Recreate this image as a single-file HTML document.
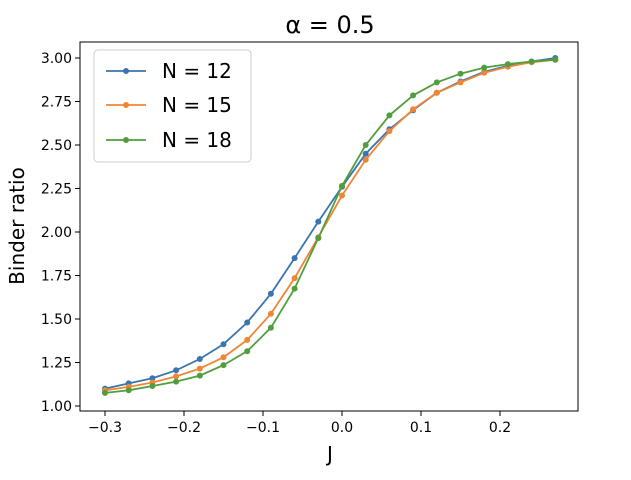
<!DOCTYPE html>
<html><head><meta charset="utf-8"><style>
body{margin:0;background:#fff;}
svg text{font-family:"DejaVu Sans","Liberation Sans",sans-serif;}
</style></head><body>
<svg id="s" width="631" height="475" xmlns="http://www.w3.org/2000/svg"></svg>
<script>
const s=document.getElementById('s');
const X=v=>105+(v+0.3)*790, Y=v=>406-(v-1)*174;
let h='';
h+='<text x="330" y="33" font-size="24" text-anchor="middle">α = 0.5</text>';
const d={'#3a75b0':[1.10,1.13,1.16,1.205,1.27,1.355,1.48,1.645,1.85,2.06,2.26,2.45,2.59,2.70,2.80,2.865,2.92,2.955,2.98,3.0],
'#ef8636':[1.09,1.11,1.135,1.17,1.215,1.28,1.38,1.53,1.735,1.97,2.21,2.415,2.58,2.705,2.80,2.86,2.915,2.95,2.975,2.99],
'#519e3e':[1.075,1.09,1.115,1.14,1.175,1.235,1.315,1.45,1.675,1.965,2.265,2.50,2.67,2.785,2.86,2.91,2.945,2.965,2.98,2.99]};
for(const c in d){let p=d[c].map((v,i)=>X(-0.3+0.03*i).toFixed(1)+','+Y(v).toFixed(1));
h+=`<polyline points="${p.join(' ')}" fill="none" stroke="${c}" stroke-width="1.8"/>`;
p.forEach(q=>{const[a,b]=q.split(',');h+=`<circle cx="${a}" cy="${b}" r="3" fill="${c}"/>`;});}
h+='<rect x="80" y="42" width="498" height="369" fill="none" stroke="#000" stroke-width="1"/>';
[-0.3,-0.2,-0.1,0,0.1,0.2].forEach(v=>{const x=X(v);h+=`<line x1="${x}" y1="411" x2="${x}" y2="416" stroke="#000"/><text x="${x}" y="432" font-size="14" text-anchor="middle">${v<0?'−'+Math.abs(v).toFixed(1):v.toFixed(1)}</text>`;});
for(let v=1;v<=3.001;v+=0.25){const y=Y(v);h+=`<line x1="75" y1="${y}" x2="80" y2="${y}" stroke="#000"/><text x="72" y="${y+5}" font-size="14" text-anchor="end">${v.toFixed(2)}</text>`;}
h+='<text x="330" y="461" font-size="20" text-anchor="middle">J</text>';
h+='<text transform="translate(24,226) rotate(-90)" font-size="20" text-anchor="middle">Binder ratio</text>';
h+='<rect x="94" y="50" width="157" height="112" rx="4" fill="#fff" stroke="#ccc"/>';
[['#3a75b0','N = 12',71],['#ef8636','N = 15',105],['#519e3e','N = 18',140]].forEach(([c,t,y])=>{
h+=`<line x1="106" y1="${y}" x2="146" y2="${y}" stroke="${c}" stroke-width="1.8"/><circle cx="126" cy="${y}" r="3" fill="${c}"/><text x="162" y="${y+7}" font-size="20">${t}</text>`;});
s.innerHTML=h;
</script>
</body></html>
